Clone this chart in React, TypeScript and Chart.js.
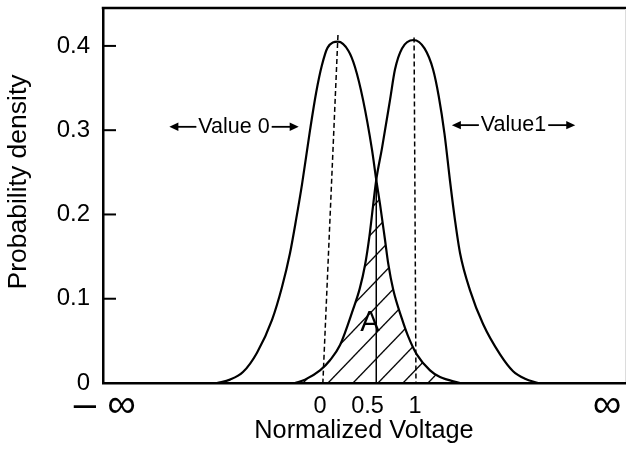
import React, { useEffect, useRef } from "react";
import { Chart, registerables } from "chart.js";

Chart.register(...registerables);

const FONT = '"Liberation Sans", Arial, Helvetica, sans-serif';

// Probability density of the "Value 0" level (x: normalized voltage)
const curve0X = [-1.084, -0.947, -0.811, -0.663, -0.505, -0.4, -0.316, -0.25, -0.189, -0.105, -0.04, 0.02, 0.08, 0.189, 0.3, 0.368, 0.453, 0.547, 0.592, 0.632, 0.684, 0.719, 0.772, 0.86, 0.929, 1.018, 1.158, 1.263, 1.474];
const curve0Y = [0, 0.004, 0.013, 0.036, 0.075, 0.114, 0.154, 0.195, 0.236, 0.3, 0.345, 0.377, 0.398, 0.405, 0.394, 0.375, 0.336, 0.277, 0.241, 0.212, 0.17, 0.141, 0.11, 0.077, 0.055, 0.034, 0.015, 0.007, 0];

// Probability density of the "Value1" level
const curve1X = [-0.263, -0.158, 0, 0.105, 0.211, 0.347, 0.418, 0.474, 0.52, 0.558, 0.592, 0.653, 0.737, 0.789, 0.863, 0.985, 1.1, 1.19, 1.25, 1.31, 1.368, 1.421, 1.474, 1.579, 1.716, 1.895, 2.032, 2.158, 2.295];
const curve1Y = [0, 0.004, 0.015, 0.027, 0.045, 0.087, 0.112, 0.14, 0.174, 0.21, 0.241, 0.279, 0.336, 0.372, 0.397, 0.407, 0.397, 0.372, 0.34, 0.296, 0.24, 0.193, 0.154, 0.11, 0.07, 0.034, 0.014, 0.005, 0];

// Crossing point / decision threshold
const crossingX = 0.592;
const crossingY = 0.241;

// Dashed mean guides (top, bottom)
const mean0GuideX = [0.189, 0.03];
const mean0GuideY = [0.413, 0];
const mean1GuideX = [0.99, 1.01];
const mean1GuideY = [0.41, 0];

// Axes
const X_MIN = -2.284;
const X_MAX = 3.21;
const Y_MIN = 0;
const Y_MAX = 0.445;
const xTickValues = [-2.265, 0, 0.5, 1, 3.02];
const xTickLabels = ["– ∞", "0", "0.5", "1", "∞"];
const yTickValues = [0, 0.1, 0.2, 0.3, 0.4];
const yTickLabels = ["0", "0.1", "0.2", "0.3", "0.4"];

// Annotations
const annotationTexts = ["Value 0", "Value1", "A"];
const annotationX = [-0.905, 2.037, 0.526];
const annotationY = [0.304, 0.306, 0.071];
const arrowed = [true, true, false];

const hatchAnchorX = 0.084;

const toPoints = (xs: number[], ys: number[]) => xs.map((x, i) => ({ x, y: ys[i] }));

function makeHatch(chart: any) {
  const w = 25;
  const h = 26;
  const c = document.createElement("canvas");
  c.width = w;
  c.height = h;
  const g = c.getContext("2d")!;
  g.strokeStyle = "#000";
  g.lineWidth = 1.3;
  for (const off of [-w, 0, w]) {
    g.beginPath();
    g.moveTo(off - w, 2 * h);
    g.lineTo(off + 2 * w, -h);
    g.stroke();
  }
  const p = chart.ctx.createPattern(c, "repeat");
  const px = chart.scales.x.getPixelForValue(hatchAnchorX);
  const py = chart.scales.y.getPixelForValue(0);
  p.setTransform(new DOMMatrix([1, 0, 0, 1, px, py - h]));
  return p;
}

function drawArrow(ctx: CanvasRenderingContext2D, tail: number, tip: number, y: number) {
  const dir = Math.sign(tip - tail);
  const head = 9;
  ctx.beginPath();
  ctx.moveTo(tail, y);
  ctx.lineTo(tip - dir * head * 0.8, y);
  ctx.lineWidth = 1.8;
  ctx.stroke();
  ctx.beginPath();
  ctx.moveTo(tip, y);
  ctx.lineTo(tip - dir * head, y - 4.2);
  ctx.lineTo(tip - dir * head, y + 4.2);
  ctx.closePath();
  ctx.fill();
}

const decorPlugin = {
  id: "decor",
  afterDraw(chart: any) {
    const { ctx, chartArea, scales } = chart;
    const { left, right, top, bottom } = chartArea;
    ctx.save();
    ctx.strokeStyle = "#000";
    ctx.fillStyle = "#000";
    // top frame line
    ctx.lineWidth = 2.5;
    ctx.beginPath();
    ctx.moveTo(left - 1.25, top);
    ctx.lineTo(chart.width, top);
    ctx.stroke();
    // faint right edge
    ctx.strokeStyle = "#dcdcdc";
    ctx.lineWidth = 1;
    ctx.beginPath();
    ctx.moveTo(right + 0.5, top + 1);
    ctx.lineTo(right + 0.5, bottom - 1);
    ctx.stroke();
    ctx.strokeStyle = "#000";
    // inward y ticks
    ctx.lineWidth = 2;
    yTickValues.forEach((v) => {
      if (v === 0) return;
      const y = scales.y.getPixelForValue(v);
      ctx.beginPath();
      ctx.moveTo(left, y);
      ctx.lineTo(left + 13, y);
      ctx.stroke();
    });
    // y axis title
    ctx.save();
    ctx.translate(left - 84, (top + bottom) / 2 - 13.5);
    ctx.rotate(-Math.PI / 2);
    ctx.font = `26.5px ${FONT}`;
    ctx.textAlign = "center";
    ctx.textBaseline = "middle";
    ctx.fillText("Probability density", 0, 0);
    ctx.restore();
    // annotations
    annotationTexts.forEach((t, i) => {
      const x = scales.x.getPixelForValue(annotationX[i]);
      const y = scales.y.getPixelForValue(annotationY[i]);
      ctx.font = `${arrowed[i] ? 21.5 : 29}px ${FONT}`;
      ctx.textAlign = "center";
      ctx.textBaseline = "middle";
      ctx.fillText(t, x, y);
      if (arrowed[i]) {
        const tw = ctx.measureText(t).width;
        const l = x - tw / 2 - 2;
        const r = x + tw / 2 + 2;
        drawArrow(ctx, l, l - 27, y);
        drawArrow(ctx, r, r + 27, y);
      }
    });
    ctx.restore();
  },
};

export default function App() {
  const ref = useRef<HTMLCanvasElement | null>(null);

  useEffect(() => {
    if (!ref.current) return;
    Chart.defaults.font.family = FONT;
    const curve0 = toPoints(curve0X, curve0Y);
    const curve1 = toPoints(curve1X, curve1Y);
    const overlap = curve1.filter((p) => p.x <= crossingX).concat(curve0.filter((p) => p.x > crossingX));
    const lineBase = {
      showLine: true,
      pointRadius: 0,
      borderColor: "#000",
      fill: false,
      clip: false as any,
    };
    const chart = new Chart(ref.current, {
      type: "scatter",
      data: {
        datasets: [
          {
            label: "A",
            data: overlap,
            showLine: true,
            pointRadius: 0,
            borderWidth: 0,
            borderColor: "rgba(0,0,0,0)",
            tension: 0,
            fill: "origin",
            backgroundColor: (c: any) => (c.chart.chartArea ? makeHatch(c.chart) : "rgba(0,0,0,0)"),
          },
          { ...lineBase, label: "Value 0", data: curve0, borderWidth: 2.2, cubicInterpolationMode: "monotone" },
          { ...lineBase, label: "Value1", data: curve1, borderWidth: 2.2, cubicInterpolationMode: "monotone" },
          { ...lineBase, label: "mean 0", data: toPoints(mean0GuideX, mean0GuideY), borderWidth: 1.5, borderDash: [5, 3] },
          { ...lineBase, label: "mean 1", data: toPoints(mean1GuideX, mean1GuideY), borderWidth: 1.5, borderDash: [5, 3] },
          {
            ...lineBase,
            label: "threshold",
            data: [
              { x: crossingX, y: crossingY },
              { x: crossingX, y: 0 },
            ],
            borderWidth: 1.5,
          },
        ] as any,
      },
      options: {
        animation: false,
        responsive: false,
        devicePixelRatio: 1,
        layout: { padding: { left: 0, right: 1, top: 8, bottom: 0 } },
        plugins: { legend: { display: false }, tooltip: { enabled: false } },
        scales: {
          x: {
            type: "linear",
            min: X_MIN,
            max: X_MAX,
            afterBuildTicks: (s: any) => {
              s.ticks = xTickValues.map((v) => ({ value: v }));
            },
            afterFit: (s: any) => {
              s.height = 76;
              s.paddingLeft = 0;
              s.paddingRight = 0;
            },
            grid: { display: false, drawTicks: false },
            border: { display: true, color: "#000", width: 2.5 },
            ticks: {
              autoSkip: false,
              maxRotation: 0,
              minRotation: 0,
              padding: 9,
              color: "#000",
              font: (c: any) =>
                c.index === 0 || c.index === xTickValues.length - 1
                  ? { family: FONT, size: 40, lineHeight: 0.69 }
                  : { family: FONT, size: 23.5 },
              callback: (_v: any, i: number) => xTickLabels[i],
            },
            title: {
              display: true,
              text: "Normalized Voltage",
              color: "#000",
              font: { family: FONT, size: 25.3 },
              padding: { top: 0, bottom: 13 },
            },
          },
          y: {
            type: "linear",
            min: Y_MIN,
            max: Y_MAX,
            afterBuildTicks: (s: any) => {
              s.ticks = yTickValues.map((v) => ({ value: v }));
            },
            afterFit: (s: any) => {
              s.width = 103;
              s.paddingTop = 0;
              s.paddingBottom = 0;
            },
            grid: { display: false, drawTicks: false },
            border: { display: true, color: "#000", width: 2.5 },
            ticks: {
              padding: 13,
              color: "#000",
              font: { family: FONT, size: 24 },
              callback: (_v: any, i: number) => yTickLabels[i],
            },
          },
        },
      },
      plugins: [decorPlugin],
    } as any);
    return () => chart.destroy();
  }, []);

  return (
    <div style={{ position: "fixed", left: 0, top: 0, width: 626, height: 459, background: "#fff" }}>
      <canvas ref={ref} width={626} height={459} style={{ display: "block" }} />
    </div>
  );
}
